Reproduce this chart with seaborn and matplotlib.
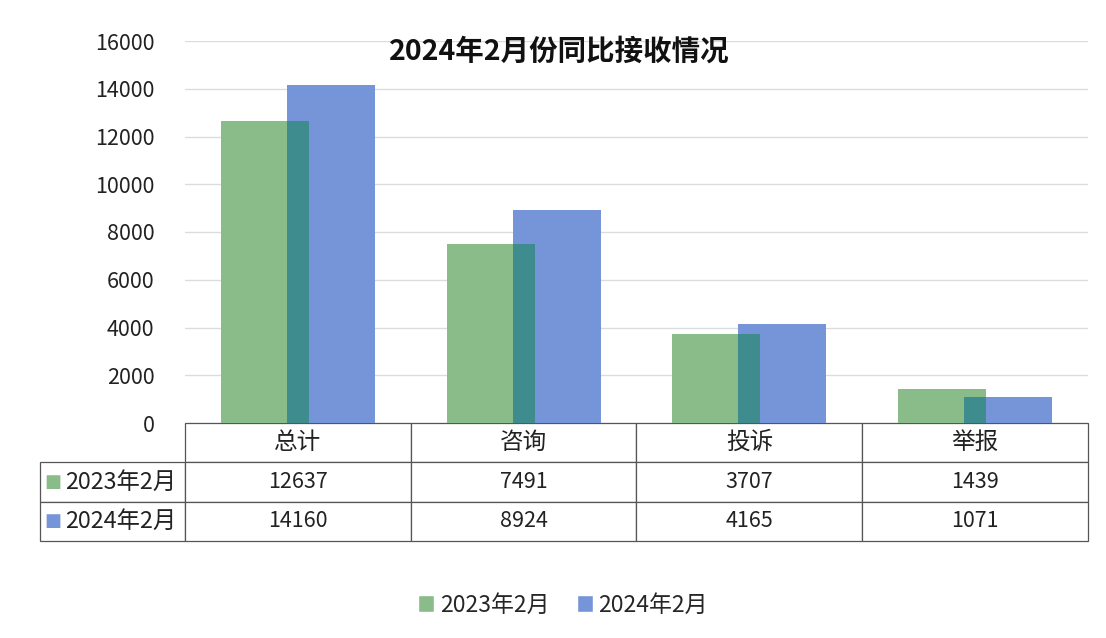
import pandas as pd
import seaborn as sns
import matplotlib.pyplot as plt
from matplotlib.patches import Patch

# 数据
categories = ["总计", "咨询", "投诉", "举报"]
years = ["2023年2月", "2024年2月"]
v2023 = [12637, 7491, 3707, 1439]
v2024 = [14160, 8924, 4165, 1071]
yticks = [0, 2000, 4000, 6000, 8000, 10000, 12000, 14000, 16000]

GREEN = "#89bc89"
BLUE = "#7595d8"
TEAL = "#3f8c8f"


def set_config():
    sns.set_style("white")
    plt.rcParams["font.family"] = ["Noto Sans CJK SC", "DejaVu Sans"]


def main():
    set_config()
    df = pd.DataFrame({
        "category": categories * 2,
        "value": v2023 + v2024,
        "year": [years[0]] * 4 + [years[1]] * 4,
    })

    fig = plt.figure(figsize=(11.06, 6.38), dpi=100)
    W, H = 1106, 638
    left, right, top, bottom = 185, 1088, 41, 423
    ax = fig.add_axes([left / W, 1 - bottom / H, (right - left) / W, (bottom - top) / H])

    sns.barplot(data=df, x="category", y="value", hue="year", order=categories,
                hue_order=years, palette=[GREEN, BLUE], width=0.584, gap=-0.335,
                legend=False, ax=ax, zorder=2, linewidth=0, saturation=1)

    # 2023 柱子放到上层, 重叠部分用深青色
    green_bars = list(ax.containers[0])
    blue_bars = list(ax.containers[1])
    for g, b in zip(green_bars, blue_bars):
        g.set_zorder(3)
        over = plt.Rectangle(g.get_xy(), g.get_width(), g.get_height(),
                             facecolor=TEAL, edgecolor="none", zorder=4)
        ax.add_patch(over)
        over.set_clip_path(b)

    ax.set_ylim(0, 16000)
    ax.set_xlim(-0.5, 3.5)
    ax.set_yticks(yticks)
    ax.set_yticklabels([str(t) for t in yticks], fontsize=15.5, color="#222222")
    ax.tick_params(axis="y", length=0, pad=22)
    ax.tick_params(axis="x", bottom=False, labelbottom=False)
    ax.set_xlabel("")
    ax.set_ylabel("")
    ax.yaxis.grid(True, color="#dcdcdc", linewidth=1, zorder=0)
    ax.set_axisbelow(True)
    for s in ax.spines.values():
        s.set_visible(False)

    ax.text(0.415, 0.971, "2024年2月份同比接收情况", transform=ax.transAxes,
            ha="center", va="center", fontsize=20.5, fontweight="bold", color="#111111")

    # 数据表
    aw = right - left
    ah = bottom - top
    cell_text = [[years[0]] + [str(v) for v in v2023],
                 [years[1]] + [str(v) for v in v2024]]
    tbl = ax.table(cellText=cell_text, colLabels=[""] + categories,
                   colWidths=[145, 226, 226, 226, 226], cellLoc="center",
                   bbox=[(40 - left) / aw, -(541 - bottom) / ah, (right - 40) / aw, 118 / ah])
    tbl.auto_set_font_size(False)
    for (r, c), cell in tbl.get_celld().items():
        cell.set_edgecolor("#555555")
        cell.set_linewidth(0.9)
        cell.get_text().set_color("#222222")
        if r == 0:
            cell.get_text().set_fontsize(17)
            if c == 0:
                cell.visible_edges = ""
        else:
            cell.get_text().set_fontsize(15.5)
            if c == 0:
                cell.get_text().set_fontsize(16.8)
                cell.get_text().set_ha("right")
                cell.PAD = 0.06

    for i, col in enumerate([GREEN, BLUE]):
        y = 482 + i * 39.5
        fig.text(53 / W, 1 - y / H, "■", color=col, fontsize=13,
                 ha="center", va="center", family="DejaVu Sans")

    handles = [Patch(facecolor=GREEN, label=years[0]), Patch(facecolor=BLUE, label=years[1])]
    fig.legend(handles=handles, loc="center", bbox_to_anchor=(563 / W, 1 - 605 / H),
               ncol=2, frameon=False, fontsize=16.5, handlelength=0.7, handleheight=0.7,
               handletextpad=0.25, columnspacing=1.2)

    fig.savefig("out.png", dpi=100)


if __name__ == "__main__":
    main()
